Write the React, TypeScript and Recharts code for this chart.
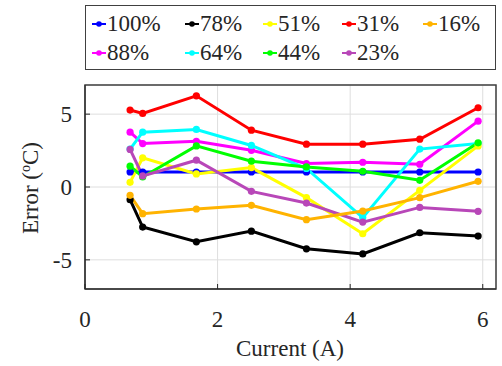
import React from 'react';
import { LineChart, Line, XAxis, YAxis, CartesianGrid, ReferenceArea } from 'recharts';

// currents (A) where the error was measured
const currents = [0.68, 0.87, 1.68, 2.51, 3.34, 4.19, 5.05, 5.93];

const p100 = [1.03, 1.03, 1.03, 1.03, 1.03, 1.03, 1.03, 1.03];
const p88 = [3.76, 2.98, 3.14, 2.52, 1.61, 1.7, 1.56, 4.52];
const p78 = [-0.87, -2.75, -3.76, -3.03, -4.24, -4.59, -3.14, -3.37];
const p64 = [2.6, 3.76, 3.95, 2.85, 1.27, -2.1, 2.6, 2.98];
const p51 = [0.32, 2.0, 0.9, 1.33, -0.73, -3.21, -0.23, 2.82];
const p44 = [1.43, 0.69, 2.82, 1.77, 1.38, 1.08, 0.46, 3.03];
const p31 = [5.28, 5.05, 6.26, 3.9, 2.94, 2.94, 3.28, 5.44];
const p23 = [2.58, 0.76, 1.84, -0.3, -1.1, -2.41, -1.4, -1.67];
const p16 = [-0.57, -1.83, -1.51, -1.26, -2.24, -1.65, -0.73, 0.39];

const seriesNames = ['100%', '88%', '78%', '64%', '51%', '44%', '31%', '23%', '16%'];
const seriesValues = [p100, p88, p78, p64, p51, p44, p31, p23, p16];
const seriesColors = ['#0000ff', '#ff00ff', '#000000', '#00ffff', '#ffff00', '#00ff00', '#ff0000', '#b847b8', '#ffb300'];

const xTicks = [0, 2, 4, 6];
const yTicks = [-5, 0, 5];

const data = currents.map((x, i) => {
  const row: Record<string, number> = { x };
  seriesNames.forEach((n, s) => {
    row[n] = seriesValues[s][i];
  });
  return row;
});

const FONT = 'Liberation Serif';
const TXT = '#262626';

// legend slots (MATLAB puts them column-major in 2 rows)
const legendCols = [99, 192, 270, 349, 430];
const legendRows = [24, 53];

const YLabel = () => (
  <text transform="translate(38,188) rotate(-90)" textAnchor="middle" fontSize={23} fontFamily={FONT} fill={TXT}>
    Error (<tspan dy={-8} fontSize={14}>o</tspan>
    <tspan dy={8}>C)</tspan>
  </text>
);

const XLabel = () => (
  <text x={290} y={356} textAnchor="middle" fontSize={23} fontFamily={FONT} fill={TXT}>
    Current (A)
  </text>
);

const Legend = () => (
  <div
    style={{
      position: 'absolute',
      left: 85,
      top: 5,
      width: 409,
      height: 63,
      border: '1.5px solid #404040',
      background: '#fff',
    }}
  >
    {seriesNames.map((n, i) => {
      const col = Math.floor(i / 2);
      const row = i % 2;
      const cx = legendCols[col] - 86;
      const cy = legendRows[row] - 6;
      return (
        <div key={n} style={{ position: 'absolute', left: cx - 7, top: cy - 12, height: 24, display: 'flex', alignItems: 'center', whiteSpace: 'nowrap' }}>
          <svg width={14} height={10}>
            <line x1={0} y1={5} x2={14} y2={5} stroke={seriesColors[i]} strokeWidth={2} />
            <circle cx={7} cy={5} r={2.8} fill={seriesColors[i]} />
          </svg>
          <span style={{ fontFamily: FONT, fontSize: 23, color: TXT, lineHeight: '24px', marginLeft: 1 }}>{n}</span>
        </div>
      );
    })}
  </div>
);

export default function App() {
  return (
    <div style={{ position: 'fixed', left: 0, top: 0, width: 502, height: 366, background: '#fff', fontFamily: FONT }}>
      <LineChart width={502} height={366} data={data} margin={{ top: 85, right: 6, bottom: 0, left: 0 }}>
        <CartesianGrid stroke="#dedede" strokeWidth={1} />
        <XAxis
          dataKey="x"
          type="number"
          domain={[0, 6.2]}
          ticks={xTicks}
          height={77}
          tickSize={-5}
          tickMargin={27}
          stroke={TXT}
          tick={{ fontSize: 23, fontFamily: FONT, fill: TXT }}
          label={<XLabel />}
        />
        <YAxis
          type="number"
          domain={[-7, 7]}
          ticks={yTicks}
          width={85}
          tickSize={-5}
          tickMargin={18}
          stroke={TXT}
          tick={{ fontSize: 23, fontFamily: FONT, fill: TXT }}
          label={<YLabel />}
        />
        <ReferenceArea x1={0} x2={6.2} y1={-7} y2={7} fill="none" stroke="#404040" strokeWidth={1.5} />
        {seriesNames.map((n, i) => (
          <Line
            key={n}
            dataKey={n}
            stroke={seriesColors[i]}
            strokeWidth={3}
            dot={{ r: 3.6, fill: seriesColors[i], stroke: 'none' }}
            activeDot={false}
            isAnimationActive={false}
          />
        ))}
      </LineChart>
      <Legend />
    </div>
  );
}
